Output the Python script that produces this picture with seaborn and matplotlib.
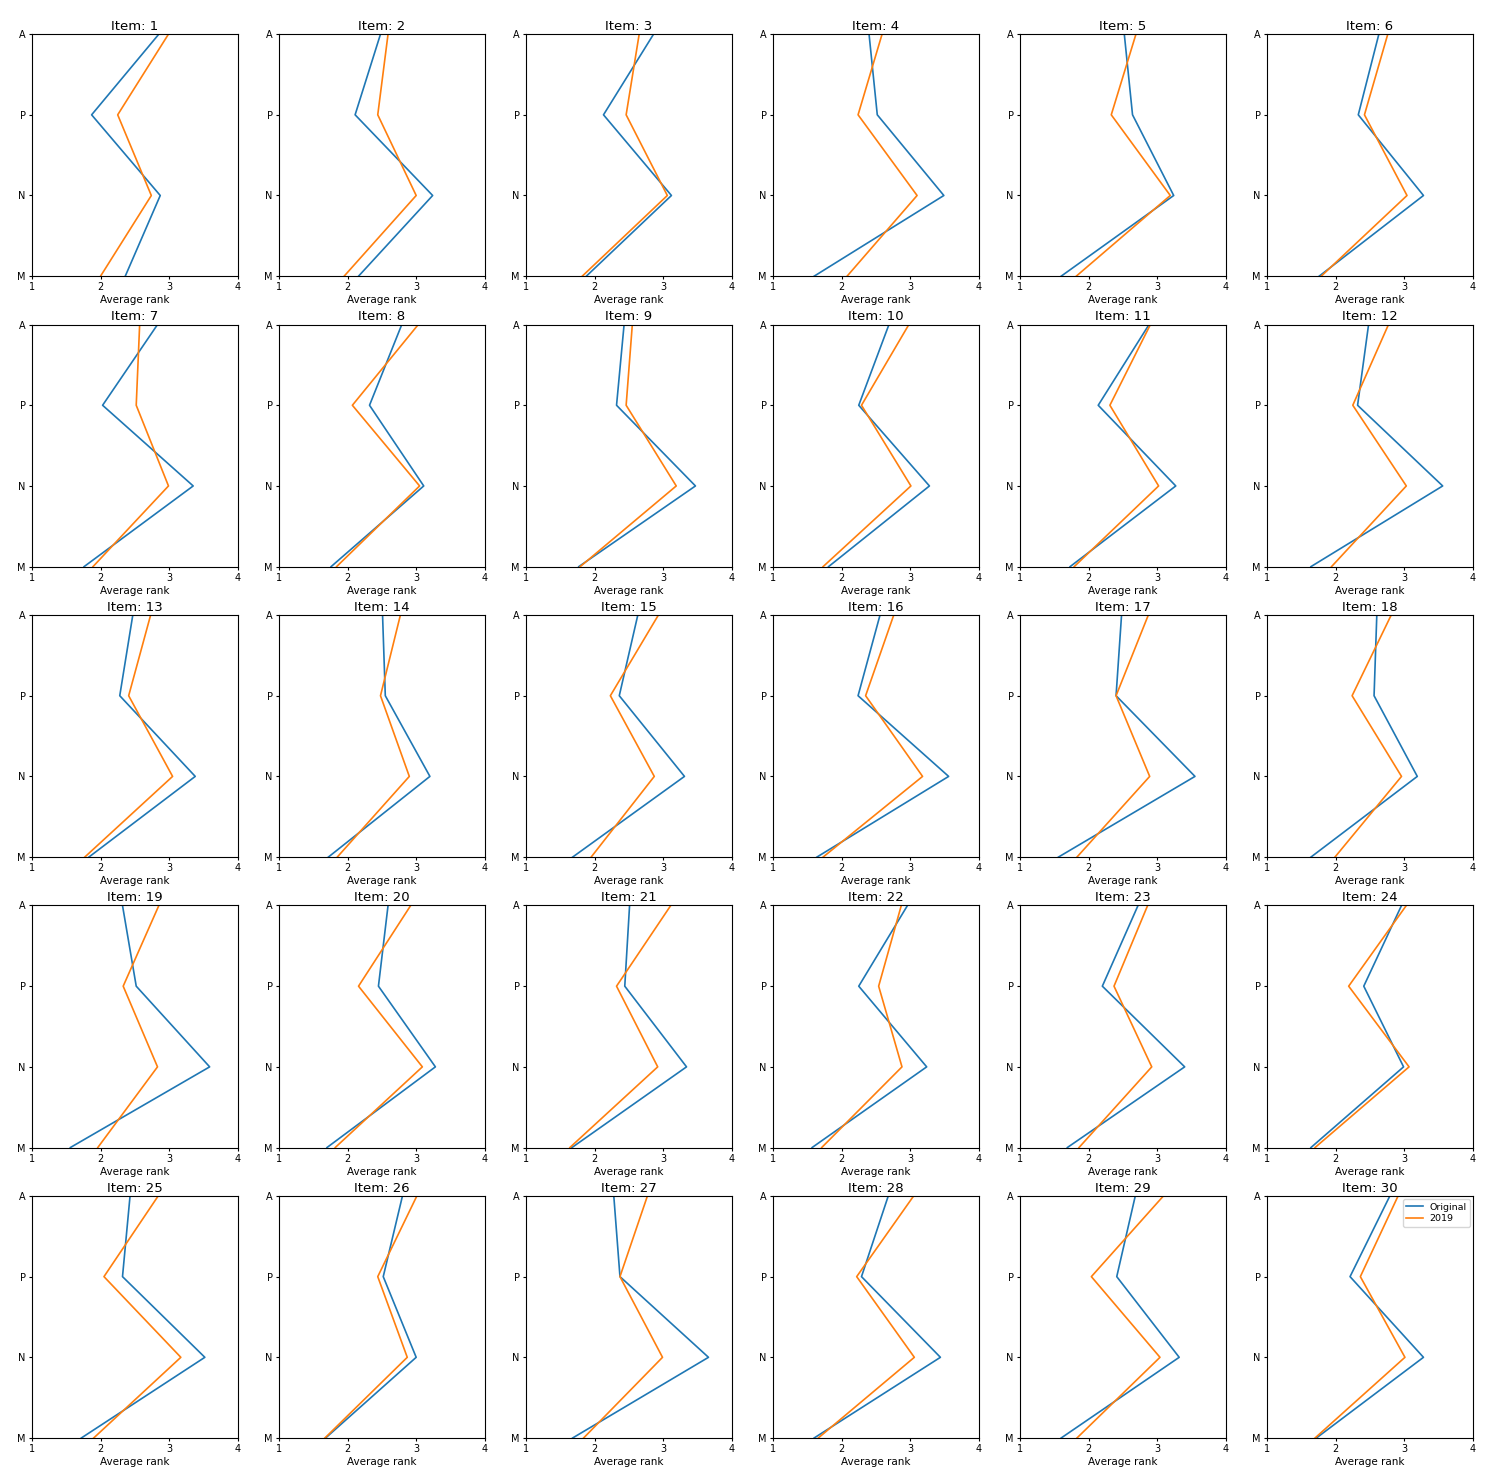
import pandas as pd
import matplotlib
matplotlib.use("Agg")
import matplotlib.pyplot as plt
import seaborn as sns

# categories, bottom to top (M at bottom, A at top)
categories = ["M", "N", "P", "A"]
items = list(range(1, 31))

# Average rank per item, "Original" series
original_A = [2.85, 2.48, 2.86, 2.40, 2.52, 2.63, 2.83, 2.79, 2.43, 2.69,
              2.88, 2.48, 2.47, 2.51, 2.63, 2.56, 2.48, 2.60, 2.32, 2.59,
              2.51, 2.96, 2.72, 2.96, 2.43, 2.80, 2.28, 2.68, 2.68, 2.79]
original_P = [1.87, 2.11, 2.13, 2.52, 2.64, 2.33, 2.03, 2.32, 2.32, 2.25,
              2.14, 2.32, 2.28, 2.55, 2.36, 2.24, 2.40, 2.56, 2.52, 2.45,
              2.44, 2.25, 2.20, 2.41, 2.32, 2.52, 2.37, 2.29, 2.41, 2.21]
original_N = [2.87, 3.24, 3.12, 3.49, 3.24, 3.28, 3.35, 3.11, 3.47, 3.28,
              3.27, 3.56, 3.38, 3.20, 3.31, 3.56, 3.55, 3.19, 3.59, 3.28,
              3.34, 3.24, 3.40, 2.99, 3.52, 3.00, 3.66, 3.44, 3.32, 3.28]
original_M = [2.36, 2.16, 1.88, 1.60, 1.60, 1.76, 1.76, 1.76, 1.77, 1.81,
              1.73, 1.64, 1.83, 1.72, 1.68, 1.64, 1.56, 1.64, 1.56, 1.70,
              1.67, 1.57, 1.69, 1.64, 1.72, 1.68, 1.68, 1.60, 1.60, 1.72]

# Average rank per item, "2019" series
r2019_A = [2.99, 2.59, 2.65, 2.59, 2.69, 2.76, 2.57, 3.03, 2.55, 2.98,
           2.90, 2.77, 2.73, 2.77, 2.93, 2.76, 2.87, 2.81, 2.85, 2.92,
           3.11, 2.87, 2.86, 3.03, 2.84, 3.01, 2.77, 3.05, 3.09, 2.91]
r2019_P = [2.25, 2.44, 2.46, 2.24, 2.33, 2.42, 2.52, 2.07, 2.46, 2.29,
           2.31, 2.25, 2.41, 2.48, 2.23, 2.35, 2.40, 2.24, 2.33, 2.16,
           2.32, 2.54, 2.37, 2.19, 2.05, 2.44, 2.37, 2.22, 2.04, 2.36]
r2019_N = [2.74, 3.00, 3.06, 3.10, 3.19, 3.04, 2.99, 3.05, 3.19, 3.01,
           3.02, 3.03, 3.05, 2.90, 2.87, 3.18, 2.89, 2.96, 2.83, 3.09,
           2.92, 2.88, 2.92, 3.07, 3.17, 2.87, 2.99, 3.06, 3.04, 3.01]
r2019_M = [2.00, 1.95, 1.82, 2.08, 1.82, 1.79, 1.89, 1.84, 1.79, 1.73,
           1.79, 1.94, 1.77, 1.85, 1.95, 1.73, 1.83, 1.99, 1.96, 1.82,
           1.64, 1.71, 1.86, 1.70, 1.90, 1.67, 1.84, 1.66, 1.83, 1.70]

series = {
    "Original": {"M": original_M, "N": original_N, "P": original_P, "A": original_A},
    "2019": {"M": r2019_M, "N": r2019_N, "P": r2019_P, "A": r2019_A},
}

rows = []
for i, item in enumerate(items):
    for name, vals in series.items():
        for cat in categories:
            rows.append({"Item": item, "Series": name, "Category": cat,
                         "Rank": vals[cat][i]})
df = pd.DataFrame(rows)
df["Category"] = pd.Categorical(df["Category"], categories=categories, ordered=True)

palette = {"Original": "#1f77b4", "2019": "#ff7f0e"}

fig, axes = plt.subplots(5, 6, figsize=(15.06, 14.84), dpi=100)
fig.subplots_adjust(left=0.0212, right=0.978, top=0.977, bottom=0.031,
                    wspace=0.2, hspace=0.2)

for ax, item in zip(axes.flat, items):
    sub = df[df["Item"] == item]
    sns.lineplot(data=sub, x="Rank", y="Category", hue="Series",
                 hue_order=["Original", "2019"], palette=palette,
                 orient="y", sort=False, estimator=None, linewidth=1.2,
                 legend=(item == 30), ax=ax)
    ax.set_xlim(1, 4)
    ax.set_xticks([1, 2, 3, 4])
    ax.set_ylim(0, 3)
    ax.set_title(f"Item: {item}", fontsize=9.5, pad=3)
    ax.set_xlabel("Average rank", fontsize=7.5, labelpad=2)
    ax.set_ylabel("")
    ax.tick_params(labelsize=7, length=2.5, pad=2)
    if item == 30:
        ax.legend(loc="upper right", fontsize=6.8, title=None,
                  handlelength=1.8, borderpad=0.4, labelspacing=0.3,
                  handletextpad=0.6, borderaxespad=0.3)

fig.savefig("out.png", dpi=100)
